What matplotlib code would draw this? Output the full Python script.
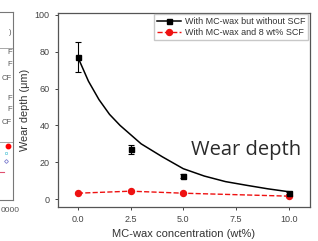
import numpy as np
import matplotlib.pyplot as plt

plt.rcParams['font.family'] = ['Liberation Sans', 'DejaVu Sans']

# data
conc = [0.0, 2.5, 5.0, 10.0]
depth_no_scf = [77, 27, 12.5, 3.3]
err_no_scf = [8, 2.5, 1.2, 0.8]
depth_scf = [3.2, 4.3, 3.2, 1.6]

# fitted curve as drawn in the picture
fit_x = [0, 0.5, 1, 1.5, 2, 2.5, 3, 3.5, 4, 5, 6, 7, 8, 9, 10]
fit_y = [77, 64, 54, 46, 40, 35, 30, 26.5, 23, 16.5, 12.5, 9.5, 7.5, 5.6, 4]

xticks = [0.0, 2.5, 5.0, 7.5, 10.0]
yticks = [0, 20, 40, 60, 80, 100]

# visible pieces of the neighbouring panel
left_texts = [')', 'F', 'F', 'CF', 'F', 'F', 'CF']
left_text_y = [33, 53, 65, 78, 98, 110, 123]

W, H = 318, 241
fig = plt.figure(figsize=(3.18, 2.41), dpi=100)

# neighbouring panel, cut off at the left edge (coords in pixels)
ax0 = fig.add_axes([-0.6, 1 - 200 / H, 0.6 + 13 / W, (200 - 12) / H])
ax0.set_xlim(-0.6 * W, 13)
ax0.set_ylim(200, 12)
ax0.set_xticks([])
ax0.set_yticks([])
for s in ax0.spines.values():
    s.set_color('#777777')
    s.set_linewidth(0.8)
ax0.plot([-50, 13], [48, 48], color='#999999', lw=0.6)
ax0.plot([-50, 13], [142, 142], color='#999999', lw=0.6)
ax0.plot([8], [146], 'o', color='red', ms=3.2)
ax0.plot([6], [153], 's', color='#7fd3e0', ms=2, mfc='none', mew=0.6)
ax0.plot([6], [161], 'D', color='#8080d0', ms=2, mfc='none', mew=0.6)
ax0.plot([-3, 4], [172, 172], color='#e05070', lw=0.8)
for t, yy in zip(left_texts, left_text_y):
    fig.text(11.5 / W, 1 - yy / H, t, fontsize=5.5, ha='right', va='center', color='#555555')
fig.text(0.5 / W, 1 - 211 / H, '0000', fontsize=6, ha='left', va='center', color='#555555')

ax = fig.add_axes([0.182, 0.141, 0.792, 0.805])
ax.plot(fit_x, fit_y, color='black', lw=1.1)
ax.errorbar(conc, depth_no_scf, yerr=err_no_scf, fmt='s', color='black', ms=3.6,
            capsize=2.2, elinewidth=0.8, capthick=0.8)
ax.plot([], [], 's-', color='black', ms=3.6, lw=1.1, label='With MC-wax but without SCF')
ax.plot(conc, depth_scf, 'o--', color='#ee1111', ms=4.3, lw=1.0,
        label='With MC-wax and 8 wt% SCF')

ax.set_xlim(-0.95, 11.0)
ax.set_ylim(-4.3, 101)
ax.set_xticks(xticks)
ax.set_xticklabels(['0.0', '2.5', '5.0', '7.5', '10.0'])
ax.set_yticks(yticks)
ax.tick_params(labelsize=6.5, colors='#444444', length=2.5, width=0.7)
ax.set_xlabel('MC-wax concentration (wt%)', fontsize=8, color='#333333', labelpad=3)
ax.set_ylabel('Wear depth (\u03bcm)', fontsize=7.8, color='#333333', labelpad=3)
for s in ax.spines.values():
    s.set_color('#555555')
    s.set_linewidth(0.9)

leg = ax.legend(loc='upper right', fontsize=6.5, frameon=True, fancybox=False,
                edgecolor='#bbbbbb', handlelength=2.6, handletextpad=0.5, borderpad=0.3,
                labelspacing=0.2, borderaxespad=0.15)
for t in leg.get_texts():
    t.set_color('#333333')

ax.text(8.0, 26.5, 'Wear depth', fontsize=14.5, family=['Open Sans', 'DejaVu Sans'],
        color='#2a2a2a', ha='center', va='center')

fig.savefig('out.png', dpi=100)
